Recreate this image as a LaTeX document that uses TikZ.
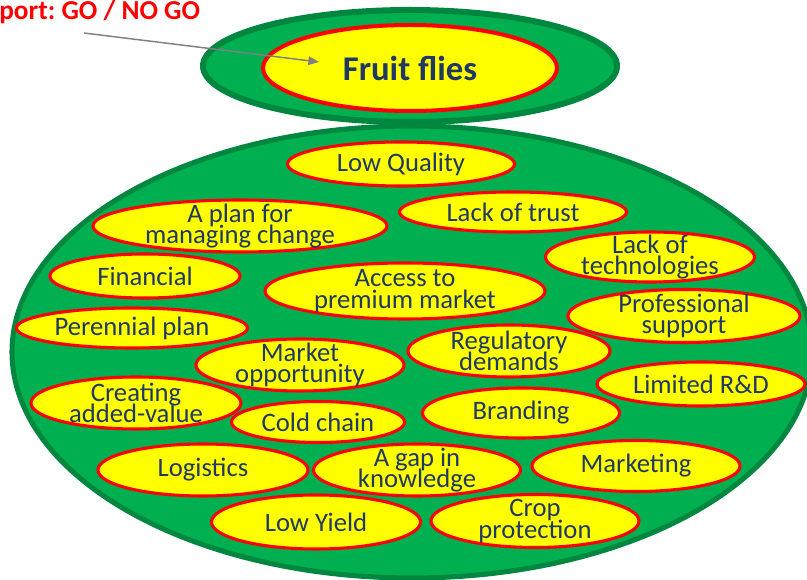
\documentclass[tikz,border=0pt]{standalone}
\usepackage{fontspec}
\setmainfont{Carlito}
\usetikzlibrary{shapes.geometric,arrows.meta}

\definecolor{leafgreen}{HTML}{00B050}
\definecolor{darkleaf}{HTML}{00873F}
\definecolor{fruityellow}{HTML}{FFFF00}
\definecolor{rimred}{HTML}{FF0000}
\definecolor{inknavy}{HTML}{203864}
\definecolor{pointergray}{HTML}{808080}

% tight two-line labels
\newcommand{\issuefont}{\fontsize{20}{16}\selectfont\setlength{\lineskiplimit}{-20pt}}

\tikzset{
  issue/.style 2 args={ellipse, draw=rimred, fill=fruityellow, line width=2.3pt,
    inner sep=-40pt, minimum width=#1*0.75pt, minimum height=#2*0.75pt,
    text=inknavy, align=center, font=\issuefont},
}

\begin{document}
\begin{tikzpicture}[x=0.75pt,y=-0.75pt]
    % Page frame (pixel units, y downwards)
    \clip (0,0) rectangle (807,580);

    % Big green field holding the issues
    \draw[darkleaf, fill=leafgreen, line width=3.8pt] (412,352) ellipse [x radius=400, y radius=226];

    % Head ring with the pest
    \node[ellipse, draw=darkleaf, fill=leafgreen, line width=4.5pt, inner sep=-40pt,
          minimum width=414*0.75pt, minimum height=112*0.75pt] (headring) at (410,66) {};
    \node[ellipse, draw=rimred, fill=fruityellow, line width=3pt, inner sep=-40pt,
          minimum width=294*0.75pt, minimum height=86*0.75pt, text=inknavy,
          font=\bfseries\fontsize{26}{28}\selectfont] (fruitflies) at (410,68) {Fruit flies};

    % Decision label and pointer
    \node[anchor=west, inner sep=0pt, text=rimred,
          font=\bfseries\fontsize{20.5}{22}\selectfont] (goreport) at (-1,12) {port:\ GO / NO GO};
    \coordinate (pointfrom) at (84,33);
    \coordinate (pointto) at (319,62);
    \draw[pointergray, line width=1.1pt, -{Triangle[length=8pt,width=6.5pt]}] (pointfrom) -- (pointto);

    % Issues
    \node[issue={227}{44}] (lowquality) at (401,164) {Low Quality};
    \node[issue={294}{52}] (planchange) at (240,226) {A plan for\\managing change};
    \node[issue={227}{40}] (lacktrust) at (513,212) {Lack of trust};
    \node[issue={209}{50}] (lacktech) at (650,257) {Lack of\\technologies};
    \node[issue={190}{44}] (financial) at (145,276) {Financial};
    \node[issue={280}{56}] (premium) at (405,291) {Access to\\premium market};
    \node[issue={232}{53}] (profsupport) at (684,316) {Professional\\support};
    \node[issue={231}{40}] (perennial) at (132,328) {Perennial plan};
    \node[issue={208}{52}] (marketopp) at (300,365) {Market\\opportunity};
    \node[issue={202}{52}] (regulatory) at (509,351) {Regulatory\\demands};
    \node[issue={208}{44}] (limitedrd) at (701,384) {Limited R\&D};
    \node[issue={210}{52}] (addedvalue) at (136,403) {Creating\\added-value};
    \node[issue={173}{41}] (coldchain) at (318,422) {Cold chain};
    \node[issue={197}{50}] (branding) at (521,413) {Branding};
    \node[issue={210}{52}] (logistics) at (203,470) {Logistics};
    \node[issue={207}{52}] (knowgap) at (417,470) {A gap in\\knowledge};
    \node[issue={208}{51}] (marketing) at (636,466) {Marketing};
    \node[issue={209}{54}] (lowyield) at (316,522) {Low Yield};
    \node[issue={208}{53}] (cropprot) at (535,521) {Crop\\protection};
\end{tikzpicture}
\end{document}
